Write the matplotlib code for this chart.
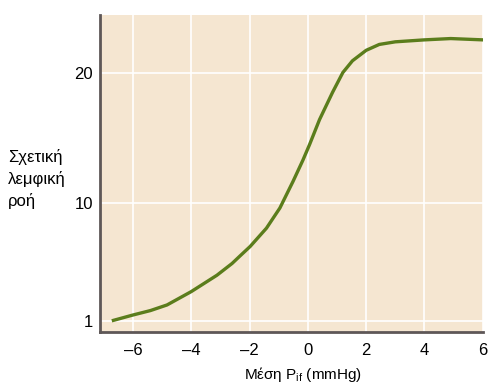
import matplotlib
matplotlib.use("Agg")
import matplotlib.pyplot as plt

# values
pif = [-6.67, -6.0, -5.4, -4.83, -4.0, -3.12, -2.6, -2.34, -1.98, -1.42, -0.96,
       -0.51, -0.17, 0.06, 0.4, 0.85, 1.2, 1.53, 2.0, 2.45, 3.0, 4.0, 4.9, 6.0]
flow = [1.05, 1.46, 1.8, 2.23, 3.25, 4.5, 5.4, 5.95, 6.7, 8.1, 9.64,
        11.67, 13.3, 14.5, 16.4, 18.5, 20.0, 20.9, 21.7, 22.15, 22.35, 22.5, 22.6, 22.5]

xticks = [-6, -4, -2, 0, 2, 4, 6]
yticks = [1, 10, 20]

plt.rcParams["font.family"] = ["Liberation Sans", "DejaVu Sans"]
plt.rcParams["mathtext.fontset"] = "custom"
plt.rcParams["mathtext.rm"] = "Liberation Sans"

fig = plt.figure(figsize=(5.01, 3.88), dpi=100)
ax = fig.add_axes([0.1996, 0.1443, 0.764, 0.817])
ax.set_facecolor("#f5e6d1")

ax.plot(pif, flow, color="#5b7d1c", linewidth=2.4, solid_joinstyle="round", zorder=3)

ax.set_xlim(-7.13, 6.0)
ax.set_ylim(0.16, 24.4)
ax.set_xticks(xticks)
ax.set_yticks(yticks)
ax.set_xticklabels([f"{t}".replace("-", "\u2013") for t in xticks])
ax.grid(True, color="white", linewidth=1.2, zorder=1)
ax.set_axisbelow(True)
ax.tick_params(axis="x", length=0, labelsize=12, pad=8)
ax.tick_params(axis="y", length=0, labelsize=12, pad=5)

for s in ["top", "right"]:
    ax.spines[s].set_visible(False)
for s in ["left", "bottom"]:
    ax.spines[s].set_color("#5e5757")
    ax.spines[s].set_linewidth(2)

ax.set_xlabel("Μέση P$_{\\rm if}$ (mmHg)", fontsize=11, labelpad=5)
ax.xaxis.label.set_x(0.53)
fig.text(0.016, 0.615, "Σχετική\nλεμφική\nροή", fontsize=12, ha="left", va="top",
         linespacing=1.45)

fig.savefig("out.png", dpi=100)
